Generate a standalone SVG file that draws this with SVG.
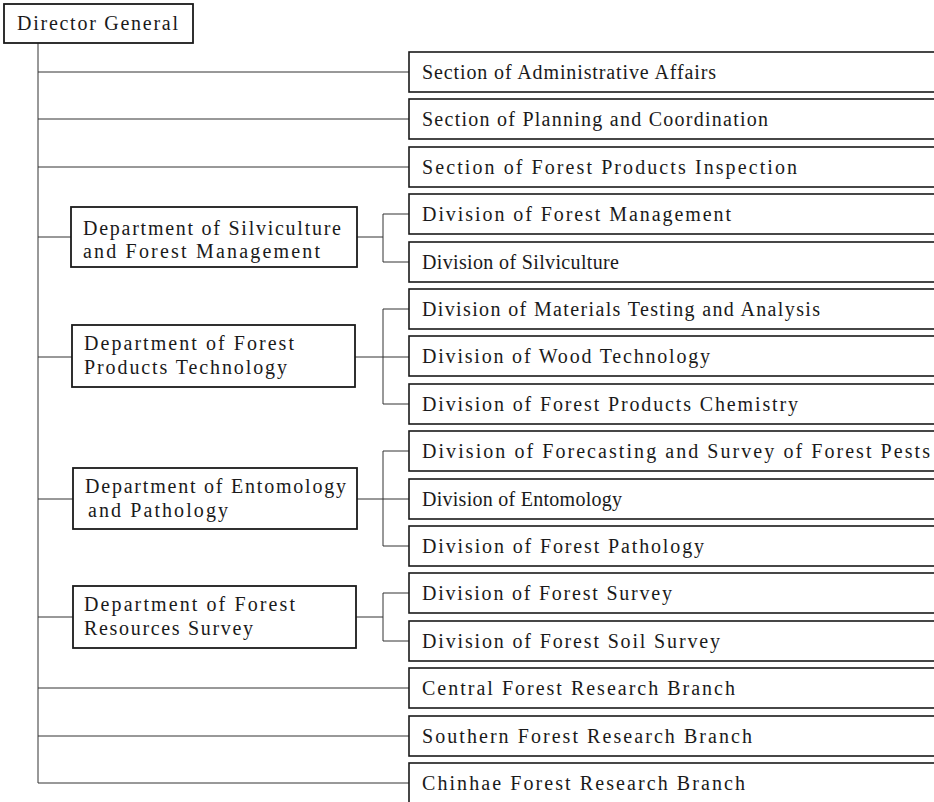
<svg xmlns="http://www.w3.org/2000/svg" width="934" height="802" viewBox="0 0 934 802">
<style>
.box{fill:#fff;stroke:#1a1a1a;stroke-width:1.8}
.unit{fill:#fff;stroke:#1a1a1a;stroke-width:1.6}
.t{font-family:"Liberation Serif","Times New Roman",serif;font-size:20px;fill:#1a1a1a}
.c{fill:none;stroke:#333;stroke-width:1}
</style>
<rect width="934" height="802" fill="#fff"/>
<g id="connectors">
<path class="c" d="M38,43 V783 H409"/>
<path class="c" d="M38,72 H409 M38,119 H409 M38,167 H409 M38,688 H409 M38,736 H409"/>
<path class="c" d="M38,237 H71 M38,357 H72 M38,499 H73 M38,617 H73"/>
<path class="c" d="M357,237 H383 M409,214 H383 V262 H409"/>
<path class="c" d="M355,357 H409 M409,309 H383 V404 H409"/>
<path class="c" d="M357,499 H409 M409,451 H383 V546 H409"/>
<path class="c" d="M356,617 H383 M409,593 H383 V641 H409"/>
</g>
<g id="director-general">
<rect class="box" x="4" y="4" width="189" height="39"/>
<text class="t" x="17" y="30" textLength="161" lengthAdjust="spacing">Director General</text>
</g>
<g id="dept-silviculture">
<rect class="box" x="71" y="207" width="286" height="60"/>
<text class="t" x="83" y="235" textLength="258" lengthAdjust="spacing">Department of Silviculture</text>
<text class="t" x="83" y="258" textLength="237" lengthAdjust="spacing">and Forest Management</text>
</g>
<g id="dept-products">
<rect class="box" x="72" y="325" width="283" height="62"/>
<text class="t" x="84" y="350" textLength="210" lengthAdjust="spacing">Department of Forest</text>
<text class="t" x="84" y="374" textLength="203" lengthAdjust="spacing">Products Technology</text>
</g>
<g id="dept-entomology">
<rect class="box" x="73" y="468" width="284" height="61"/>
<text class="t" x="85" y="493" textLength="261" lengthAdjust="spacing">Department of Entomology</text>
<text class="t" x="88" y="517" textLength="140" lengthAdjust="spacing">and Pathology</text>
</g>
<g id="dept-resources">
<rect class="box" x="73" y="586" width="283" height="62"/>
<text class="t" x="84" y="611" textLength="211" lengthAdjust="spacing">Department of Forest</text>
<text class="t" x="84" y="635" textLength="169" lengthAdjust="spacing">Resources Survey</text>
</g>
<g id="sec-admin"><rect class="unit" x="409" y="52" width="540" height="40"/><text class="t" x="422" y="79" textLength="294" lengthAdjust="spacing">Section of Administrative Affairs</text></g>
<g id="sec-planning"><rect class="unit" x="409" y="99" width="540" height="40"/><text class="t" x="422" y="126" textLength="346" lengthAdjust="spacing">Section of Planning and Coordination</text></g>
<g id="sec-inspection"><rect class="unit" x="409" y="147" width="540" height="40"/><text class="t" x="422" y="174" textLength="375" lengthAdjust="spacing">Section of Forest Products Inspection</text></g>
<g id="div-management"><rect class="unit" x="409" y="194" width="540" height="40"/><text class="t" x="422" y="221" textLength="309" lengthAdjust="spacing">Division of Forest Management</text></g>
<g id="div-silviculture"><rect class="unit" x="409" y="242" width="540" height="40"/><text class="t" x="422" y="269" textLength="197" lengthAdjust="spacing">Division of Silviculture</text></g>
<g id="div-materials"><rect class="unit" x="409" y="289" width="540" height="40"/><text class="t" x="422" y="316" textLength="398" lengthAdjust="spacing">Division of Materials Testing and Analysis</text></g>
<g id="div-wood"><rect class="unit" x="409" y="336" width="540" height="40"/><text class="t" x="422" y="363" textLength="288" lengthAdjust="spacing">Division of Wood Technology</text></g>
<g id="div-chemistry"><rect class="unit" x="409" y="384" width="540" height="40"/><text class="t" x="422" y="411" textLength="376" lengthAdjust="spacing">Division of Forest Products Chemistry</text></g>
<g id="div-forecasting"><rect class="unit" x="409" y="431" width="540" height="40"/><text class="t" x="422" y="458" textLength="508" lengthAdjust="spacing">Division of Forecasting and Survey of Forest Pests</text></g>
<g id="div-entomology"><rect class="unit" x="409" y="479" width="540" height="40"/><text class="t" x="422" y="506" textLength="200" lengthAdjust="spacing">Division of Entomology</text></g>
<g id="div-pathology"><rect class="unit" x="409" y="526" width="540" height="40"/><text class="t" x="422" y="553" textLength="282" lengthAdjust="spacing">Division of Forest Pathology</text></g>
<g id="div-survey"><rect class="unit" x="409" y="573" width="540" height="40"/><text class="t" x="422" y="600" textLength="250" lengthAdjust="spacing">Division of Forest Survey</text></g>
<g id="div-soil"><rect class="unit" x="409" y="621" width="540" height="40"/><text class="t" x="422" y="648" textLength="298" lengthAdjust="spacing">Division of Forest Soil Survey</text></g>
<g id="branch-central"><rect class="unit" x="409" y="668" width="540" height="40"/><text class="t" x="422" y="695" textLength="313" lengthAdjust="spacing">Central Forest Research Branch</text></g>
<g id="branch-southern"><rect class="unit" x="409" y="716" width="540" height="40"/><text class="t" x="422" y="743" textLength="330" lengthAdjust="spacing">Southern Forest Research Branch</text></g>
<g id="branch-chinhae"><rect class="unit" x="409" y="763" width="540" height="40"/><text class="t" x="422" y="790" textLength="323" lengthAdjust="spacing">Chinhae Forest Research Branch</text></g>
</svg>
